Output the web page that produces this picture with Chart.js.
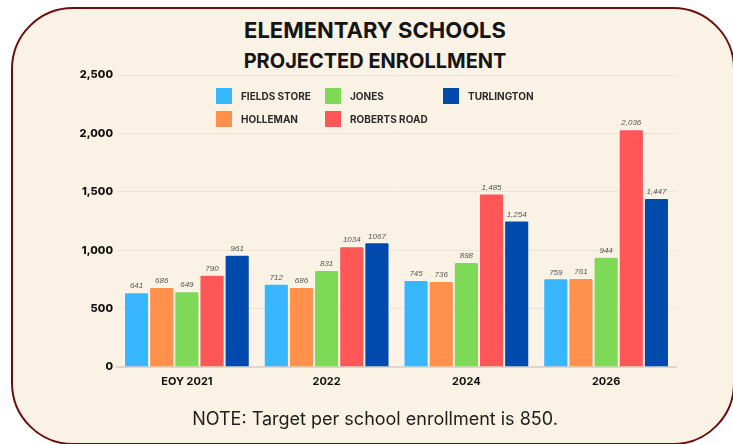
<!DOCTYPE html>
<html>
<head>
<meta charset="utf-8">
<script src="https://cdn.jsdelivr.net/npm/chart.js@4"></script>
<style>
  html, body { margin: 0; padding: 0; background: #ffffff; }
  body { width: 733px; height: 444px; position: relative; overflow: hidden; }
  .card {
    position: absolute; left: 11px; top: 7px; width: 724px; height: 438px;
    box-sizing: border-box; border: 2px solid #6b0d0d; border-radius: 62px;
    background: #faf2e4;
  }
  .title {
    position: absolute; left: 11px; width: 728px; text-align: center;
    font-family: Inter, "DejaVu Sans", sans-serif; font-weight: 700; color: #151515;
  }
  #t1 { top: 17px; font-size: 22px; }
  #t2 { top: 49px; font-size: 20px; }
  #note {
    position: absolute; left: 11px; width: 728px; top: 408px; text-align: center;
    font-family: Inter, "DejaVu Sans", sans-serif; font-size: 18px; font-weight: 400; color: #1e1e1e;
  }
  canvas { position: absolute; left: 0; top: 0; }
</style>
</head>
<body>
<div class="card"></div>
<div class="title" id="t1">ELEMENTARY SCHOOLS</div>
<div class="title" id="t2">PROJECTED ENROLLMENT</div>
<canvas id="enrollChart" width="733" height="444"></canvas>
<div id="note">NOTE: Target per school enrollment is 850.</div>
<script>
// Data
const categories = ['EOY 2021', '2022', '2024', '2026'];
const schools = ['FIELDS STORE', 'HOLLEMAN', 'JONES', 'ROBERTS ROAD', 'TURLINGTON'];
const fieldsStore = [641, 712, 745, 759];
const holleman = [686, 686, 736, 761];
const jones = [649, 831, 898, 944];
const robertsRoad = [790, 1034, 1485, 2036];
const turlington = [961, 1067, 1254, 1447];
// value labels as printed on the chart (2022 ones have no comma)
const fieldsStoreLabels = ['641', '712', '745', '759'];
const hollemanLabels = ['686', '686', '736', '761'];
const jonesLabels = ['649', '831', '898', '944'];
const robertsRoadLabels = ['790', '1034', '1,485', '2,036'];
const turlingtonLabels = ['961', '1067', '1,254', '1,447'];
const yTicks = [0, 500, 1000, 1500, 2000, 2500];

const colors = ['#38b6ff', '#ff914d', '#7ed957', '#ff5757', '#004aad'];
const seriesValues = [fieldsStore, holleman, jones, robertsRoad, turlington];
const seriesLabels = [fieldsStoreLabels, hollemanLabels, jonesLabels, robertsRoadLabels, turlingtonLabels];

// Bar value labels (small italic numbers on top of each bar)
const valueLabelPlugin = {
  id: 'valueLabels',
  afterDatasetsDraw(chart) {
    const ctx = chart.ctx;
    ctx.save();
    ctx.font = 'italic 8px "Liberation Sans", sans-serif';
    ctx.fillStyle = '#555555';
    ctx.textAlign = 'center';
    ctx.textBaseline = 'bottom';
    chart.data.datasets.forEach((ds, i) => {
      const meta = chart.getDatasetMeta(i);
      meta.data.forEach((bar, j) => {
        ctx.fillText(seriesLabels[i][j], bar.x, bar.y - 2);
      });
    });
    ctx.restore();
  }
};

// Legend laid out in columns (two rows), like the original
const gridLegendPlugin = {
  id: 'gridLegend',
  afterDraw(chart) {
    const ctx = chart.ctx;
    const colX = [216, 325, 443];
    const rowY = [88, 111];
    ctx.save();
    ctx.font = '700 10px Inter, "DejaVu Sans", sans-serif';
    ctx.textBaseline = 'middle';
    ctx.textAlign = 'left';
    chart.data.datasets.forEach((ds, i) => {
      const x = colX[Math.floor(i / 2)];
      const y = rowY[i % 2];
      ctx.fillStyle = ds.backgroundColor;
      ctx.fillRect(x, y, 16, 16);
      ctx.fillStyle = '#2a2a2a';
      ctx.fillText(ds.label, x + 25, y + 9);
    });
    ctx.restore();
  }
};

const ctx = document.getElementById('enrollChart').getContext('2d');
const enrollChart = new Chart(ctx, {
  type: 'bar',
  data: {
    labels: categories,
    datasets: schools.map((name, i) => ({
      label: name,
      data: seriesValues[i],
      backgroundColor: colors[i],
      borderColor: 'rgba(255,255,255,0.45)',
      borderWidth: 1,
      borderRadius: 2,
      borderSkipped: 'bottom',
      categoryPercentage: 0.9,
      barPercentage: 1.0
    }))
  },
  options: {
    responsive: false,
    animation: false,
    layout: { padding: { top: 75, right: 57, bottom: 47, left: 0 } },
    plugins: {
      legend: { display: false },
      tooltip: { enabled: false }
    },
    scales: {
      x: {
        grid: { display: false },
        border: { display: true, color: '#dcd6cc', width: 2 },
        ticks: {
          color: '#111111',
          padding: 0,
          font: { family: 'Inter', size: 11, weight: '700' }
        },
        afterFit(scale) { scale.height = 30; }
      },
      y: {
        min: 0,
        max: 2500,
        afterBuildTicks(scale) { scale.ticks = yTicks.map(v => ({ value: v })); },
        grid: { color: '#ece4d4', lineWidth: 1, drawTicks: false },
        border: { display: false },
        ticks: {
          color: '#111111',
          padding: 4,
          font: { family: 'Inter', size: 11, weight: '800' },
          callback: v => v.toLocaleString('en-US')
        },
        afterFit(scale) { scale.width = 117; }
      }
    }
  },
  plugins: [valueLabelPlugin, gridLegendPlugin]
});
</script>
</body>
</html>
